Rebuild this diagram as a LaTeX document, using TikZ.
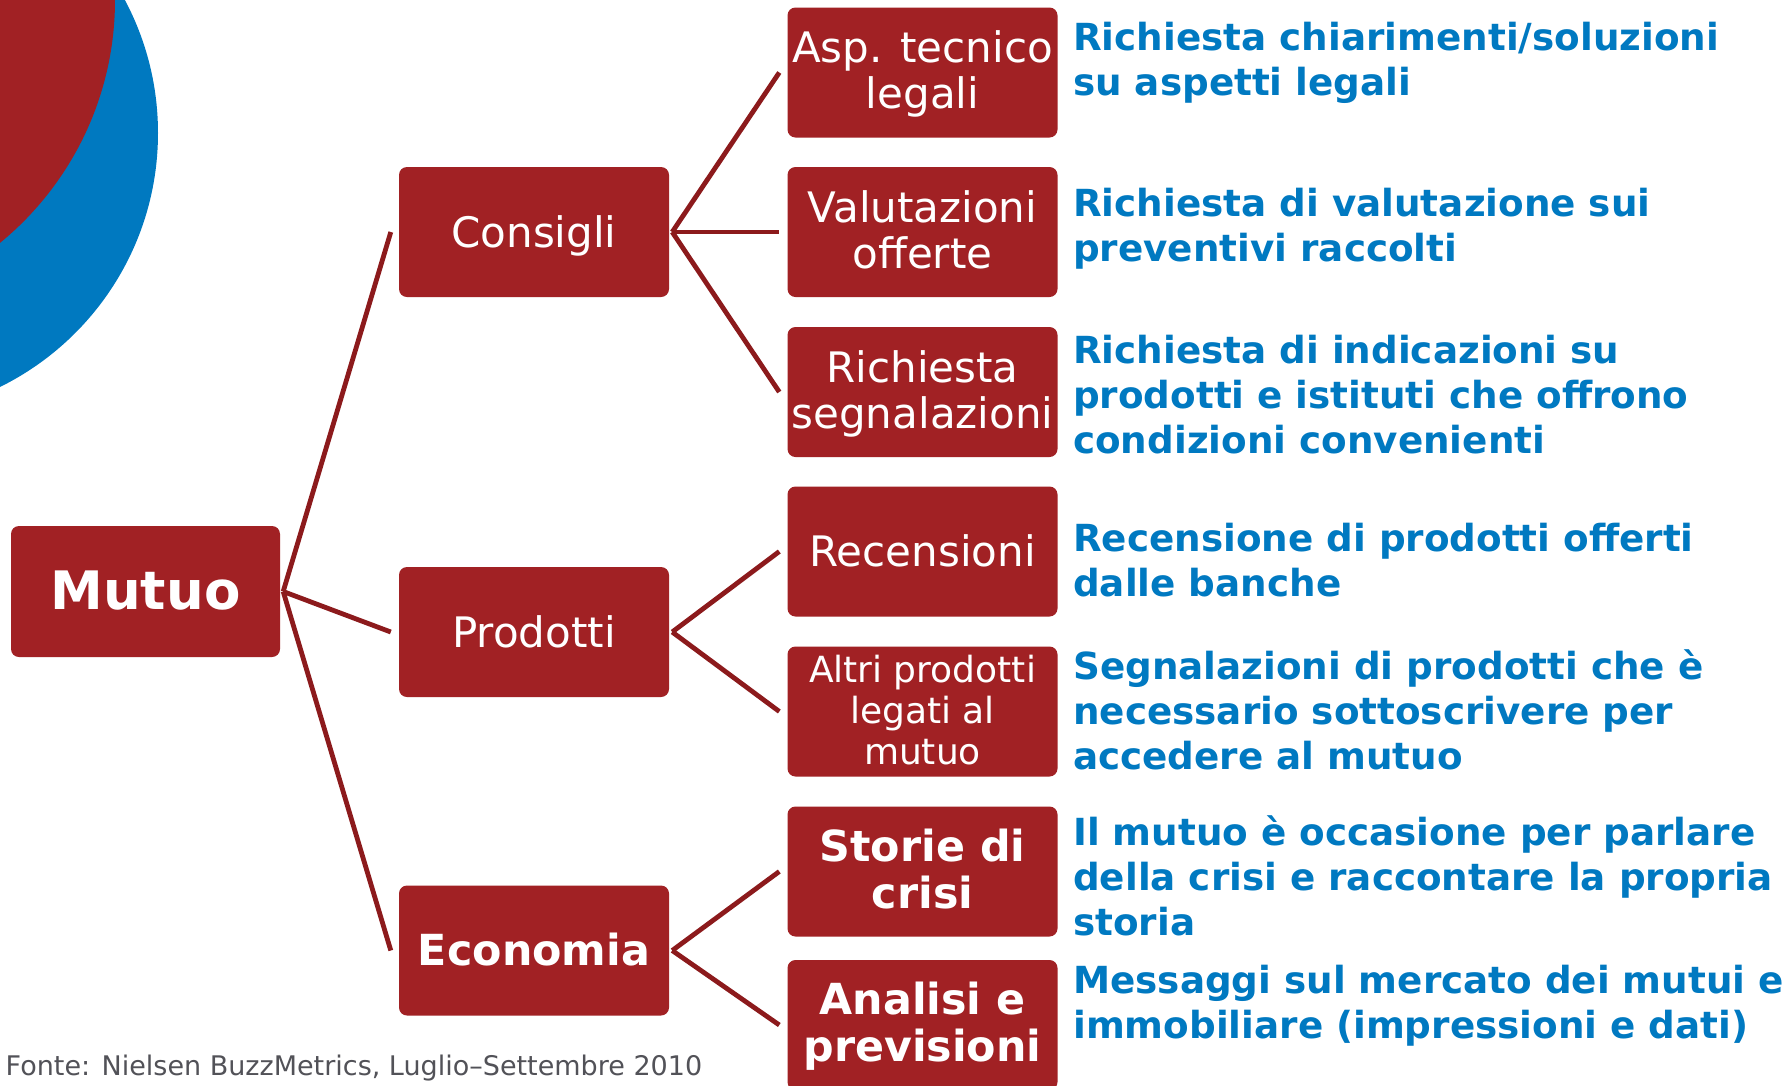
\documentclass[tikz,border=0pt]{standalone}
\usepackage{fontspec}
\setmainfont{DejaVu Sans}
\definecolor{boxred}{RGB}{161,33,36}
\definecolor{linkred}{RGB}{140,26,28}
\definecolor{discblue}{RGB}{0,121,192}
\definecolor{descblue}{RGB}{0,121,193}
\definecolor{footgrey}{RGB}{82,82,88}
\tikzset{
  box/.style={rectangle, rounded corners=8pt, fill=boxred, minimum width=270pt,
    minimum height=130pt, inner sep=0pt},
  lbl/.style={inner sep=0pt, text=white, align=center,
    font=\fontsize{42}{46}\selectfont},
  lblsmall/.style={lbl, font=\fontsize{36}{41}\selectfont},
  lblbold/.style={lbl, font=\fontsize{42.8}{46}\selectfont\bfseries},
  conn/.style={draw=linkred, line width=4.8pt},
  desc/.style={anchor=north west, inner sep=0pt, text=descblue, align=left,
    font=\fontsize{37.3}{45}\selectfont\bfseries},
}
\begin{document}
\begin{tikzpicture}[x=1pt,y=-1pt]
\fill[white] (0,0) rectangle (1789,1085);
\useasboundingbox (0,0) rectangle (1789,1085);

% decorative discs in the upper left corner
\fill[discblue] (-125,133) circle[radius=283];
\fill[boxred] (-199,0) circle[radius=314];

% root
\node[box, minimum width=269pt, minimum height=131pt] (mutuo) at (145.5,591.5) {};
\node[lbl, font=\fontsize{53}{60}\selectfont\bfseries] (mutuo-t)
  at ([yshift=-6pt]mutuo.center) {\strut Mutuo};

% first level
\node[box] (consigli) at (534,232) {};
\node[box] (prodotti) at (534,632) {};
\node[box] (economia) at (534,950.5) {};
\node[lbl] (consigli-t) at ([yshift=-5.8pt]consigli.center) {\strut Consigli};
\node[lbl] (prodotti-t) at ([yshift=-5.8pt]prodotti.center) {\strut Prodotti};
\node[lblbold] (economia-t) at ([yshift=-6pt]economia.center) {\strut Economia};

% second level
\node[box] (asp) at (922.5,72.5) {};
\node[box] (valut) at (922.5,232) {};
\node[box] (segn) at (922.5,392) {};
\node[box] (recens) at (922.5,551.5) {};
\node[box] (altri) at (922.5,711.5) {};
\node[box] (storie) at (922.5,871.5) {};
\node[box] (analisi) at (922.5,1025) {};

\node[lbl] (asp-t) at ([yshift=-3.8pt]asp.center) {\strut Asp. tecnico\\\strut legali};
\node[lbl] (valut-t) at ([yshift=-3.8pt]valut.center) {\strut Valutazioni\\\strut offerte};
\node[lbl] (segn-t) at ([yshift=-3.8pt]segn.center) {\strut Richiesta\\\strut segnalazioni};
\node[lbl] (recens-t) at ([yshift=-5.8pt]recens.center) {\strut Recensioni};
\node[lblsmall] (altri-t) at ([yshift=-3.3pt]altri.center) {\strut Altri prodotti\\\strut legati al\\\strut mutuo};
\node[lblbold] (storie-t) at ([yshift=-3.8pt]storie.center) {\strut Storie di\\\strut crisi};
\node[lblbold] (analisi-t) at ([yshift=-3.8pt]analisi.center) {\strut Analisi e\\\strut previsioni};

% connectors
\foreach \c in {consigli,prodotti,economia}
  \draw[conn] ([xshift=3pt]mutuo.east) -- ([xshift=-8pt]\c.west);
\foreach \c in {asp,valut,segn}
  \draw[conn] ([xshift=3pt]consigli.east) -- ([xshift=-8pt]\c.west);
\foreach \c in {recens,altri}
  \draw[conn] ([xshift=3pt]prodotti.east) -- ([xshift=-8pt]\c.west);
\foreach \c in {storie,analisi}
  \draw[conn] ([xshift=3pt]economia.east) -- ([xshift=-8pt]\c.west);

% descriptions
\node[desc] (d-asp) at (1073,18.7) {\strut Richiesta chiarimenti/soluzioni\\\strut su aspetti legali};
\node[desc] (d-valut) at (1073,184.7) {\strut Richiesta di valutazione sui\\\strut preventivi raccolti};
\node[desc] (d-segn) at (1073,331.7) {\strut Richiesta di indicazioni su\\\strut prodotti e istituti che offrono\\\strut condizioni convenienti};
\node[desc] (d-recens) at (1073,519.7) {\strut Recensione di prodotti offerti\\\strut dalle banche};
\node[desc] (d-altri) at (1073,647.7) {\strut Segnalazioni di prodotti che è\\\strut necessario sottoscrivere per\\\strut accedere al mutuo};
\node[desc] (d-storie) at (1073,813.7) {\strut Il mutuo è occasione per parlare\\\strut della crisi e raccontare la propria\\\strut storia};
\node[desc] (d-analisi) at (1073,961.7) {\strut Messaggi sul mercato dei mutui e\\\strut immobiliare (impressioni e dati)};

% source line
\node[anchor=base west, inner sep=0pt, text=footgrey, font=\fontsize{27}{31}\selectfont]
  (fonte) at (5.5,1075) {Fonte: Nielsen BuzzMetrics, Luglio–Settembre 2010};
\end{tikzpicture}
\end{document}
